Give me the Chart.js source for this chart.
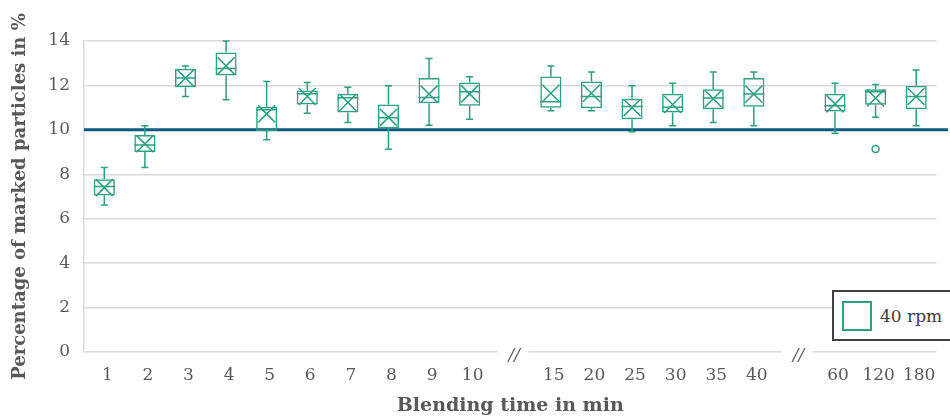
<!DOCTYPE html>
<html>
<head>
<meta charset="utf-8">
<script src="https://cdn.jsdelivr.net/npm/chart.js@4/dist/chart.umd.min.js"></script>
<style>
html,body{margin:0;padding:0;background:#fff;}
#wrap{position:relative;width:950px;height:420px;overflow:hidden;}
#legend{position:absolute;left:832px;top:290px;width:130px;height:47px;border:2px solid #404040;background:#fff;}
#legend .sw{position:absolute;left:8px;top:9px;width:26px;height:26px;border:2px solid #2ba083;}
#legend .tx{position:absolute;left:46px;top:14px;font:17px "DejaVu Serif",serif;color:#404040;line-height:20px;white-space:nowrap;}
</style>
</head>
<body>
<div id="wrap">
<canvas id="c" width="950" height="420"></canvas>
<div id="legend"><div class="sw"></div><div class="tx">40 rpm</div></div>
</div>
<script>
// ---- data ----
const categories = ['1','2','3','4','5','6','7','8','9','10','','15','20','25','30','35','40','','60','120','180'];
const whiskerMin = [6.62, 8.30, 11.50, 11.35, 9.55, 10.75, 10.33, 9.13, 10.21, 10.48, null, 10.86, 10.86, 9.92, 10.19, 10.33, 10.19, null, 9.85, 10.57, 10.19];
const q1Values   = [7.04, 9.00, 11.92, 12.45, 9.95, 11.14, 10.78, 10.06, 11.20, 11.09, null, 10.99, 10.97, 10.48, 10.78, 10.93, 11.04, null, 10.83, 11.13, 10.93];
const medians    = [7.45, 9.32, 12.33, 12.76, 10.90, 11.62, 11.44, 10.54, 11.46, 11.71, null, 11.27, 11.50, 11.05, 11.02, 11.43, 11.61, null, 11.08, 11.71, 11.50];
const q3Values   = [7.78, 9.77, 12.75, 13.48, 11.04, 11.77, 11.62, 11.14, 12.33, 12.13, null, 12.40, 12.18, 11.40, 11.62, 11.83, 12.33, null, 11.62, 11.83, 11.98];
const whiskerMax = [8.30, 10.19, 12.88, 14.00, 12.18, 12.13, 11.92, 11.98, 13.21, 12.39, null, 12.87, 12.60, 11.98, 12.10, 12.60, 12.60, null, 12.10, 12.04, 12.70];
const means      = [7.40, 9.37, 12.33, 12.88, 10.72, 11.50, 11.23, 10.56, 11.61, 11.62, null, 11.65, 11.65, 11.00, 11.14, 11.40, 11.61, null, 11.17, 11.43, 11.50];
const outliers   = [null, null, null, null, null, null, null, null, null, null, null, null, null, null, null, null, null, null, null, 9.14, null];
const referenceValue = 10;
const yTicks = [0, 2, 4, 6, 8, 10, 12, 14];
const seriesName = '40 rpm';

// ---- styles ----
const GREEN = '#2ba083';
const REF = '#0f587e';
const GRID = '#dadada';
const TXT = '#595959';
const BAR_PCT = 0.52;

const boxExtras = {
  id: 'boxExtras',
  beforeDatasetsDraw(chart) {
    const {ctx, chartArea: a, scales: {x, y}} = chart;
    ctx.save();
    const y0 = y.getPixelForValue(0);
    categories.forEach((c, i) => {
      if (c !== '') return;
      const cx = x.getPixelForValue(i);
      ctx.fillStyle = '#fff';
      ctx.fillRect(cx - 13, y0 - 3, 31, 6);
      ctx.fillStyle = TXT;
      ctx.font = 'italic 17px "DejaVu Serif", serif';
      ctx.textAlign = 'center';
      ctx.textBaseline = 'middle';
      ctx.fillText('//', cx + 4, y0 + 4);
    });
    const yr = y.getPixelForValue(referenceValue);
    ctx.strokeStyle = REF;
    ctx.lineWidth = 3;
    ctx.beginPath();
    ctx.moveTo(a.left, yr);
    ctx.lineTo(chart.width - 2, yr);
    ctx.stroke();
    ctx.restore();
  },
  afterDatasetsDraw(chart) {
    const {ctx, scales: {x, y}} = chart;
    const cw = x.getPixelForValue(1) - x.getPixelForValue(0);
    const half = cw * BAR_PCT / 2;
    ctx.save();
    ctx.strokeStyle = GREEN;
    ctx.lineWidth = 1.5;
    categories.forEach((c, i) => {
      if (q1Values[i] == null) return;
      const cx = x.getPixelForValue(i);
      const pMin = y.getPixelForValue(whiskerMin[i]);
      const pMax = y.getPixelForValue(whiskerMax[i]);
      const pQ1 = y.getPixelForValue(q1Values[i]);
      const pQ3 = y.getPixelForValue(q3Values[i]);
      const pMed = y.getPixelForValue(medians[i]);
      ctx.beginPath();
      ctx.moveTo(cx, pQ3); ctx.lineTo(cx, pMax);
      ctx.moveTo(cx - 3.5, pMax); ctx.lineTo(cx + 3.5, pMax);
      ctx.moveTo(cx, pQ1); ctx.lineTo(cx, pMin);
      ctx.moveTo(cx - 3.5, pMin); ctx.lineTo(cx + 3.5, pMin);
      ctx.moveTo(cx - half, pMed); ctx.lineTo(cx + half, pMed);
      ctx.stroke();
    });
    ctx.restore();
  }
};

const boxData = q1Values.map((v, i) => v == null ? null : [v, q3Values[i]]);

new Chart(document.getElementById('c'), {
  data: {
    labels: categories,
    datasets: [
      {
        type: 'bar',
        label: seriesName,
        data: boxData,
        backgroundColor: 'rgba(255,255,255,0)',
        borderColor: GREEN,
        borderWidth: 1.5,
        borderSkipped: false,
        barPercentage: BAR_PCT,
        categoryPercentage: 1,
        grouped: false
      },
      {
        type: 'line',
        label: 'mean',
        data: means,
        showLine: false,
        pointStyle: 'crossRot',
        pointRadius: 12,
        borderColor: GREEN,
        borderWidth: 1.5,
        backgroundColor: GREEN
      },
      {
        type: 'line',
        label: 'outlier',
        data: outliers,
        showLine: false,
        pointStyle: 'circle',
        pointRadius: 3.5,
        borderColor: GREEN,
        borderWidth: 1.5,
        backgroundColor: '#fff'
      }
    ]
  },
  options: {
    responsive: false,
    animation: false,
    events: [],
    layout: {padding: {left: 0, right: 7, top: 41, bottom: 0}},
    plugins: {legend: {display: false}, tooltip: {enabled: false}},
    scales: {
      x: {
        type: 'category',
        grid: {display: false, drawTicks: false},
        border: {display: false},
        ticks: {color: TXT, font: {family: '"DejaVu Serif", serif', size: 17}, padding: 13, labelOffset: 3, maxRotation: 0, autoSkip: false},
        title: {display: true, text: 'Blending time in min', color: TXT, font: {family: '"DejaVu Serif", serif', size: 19, weight: 'bold'}, padding: {top: 0, bottom: 3}},
        afterFit(s) { s.height = 68; }
      },
      y: {
        min: 0, max: 14,
        afterBuildTicks(s) { s.ticks = yTicks.map(v => ({value: v})); },
        grid: {color: GRID, lineWidth: 1.5, drawTicks: false},
        border: {display: true, color: GRID, width: 1.5},
        ticks: {color: TXT, font: {family: '"DejaVu Serif", serif', size: 17}, padding: 14},
        title: {display: true, text: 'Percentage of marked particles in %', color: TXT, font: {family: '"DejaVu Serif", serif', size: 18, weight: 'bold'}, padding: {top: 10, bottom: 0}},
        afterFit(s) { s.width = 84; }
      }
    }
  },
  plugins: [boxExtras]
});
</script>
</body>
</html>
